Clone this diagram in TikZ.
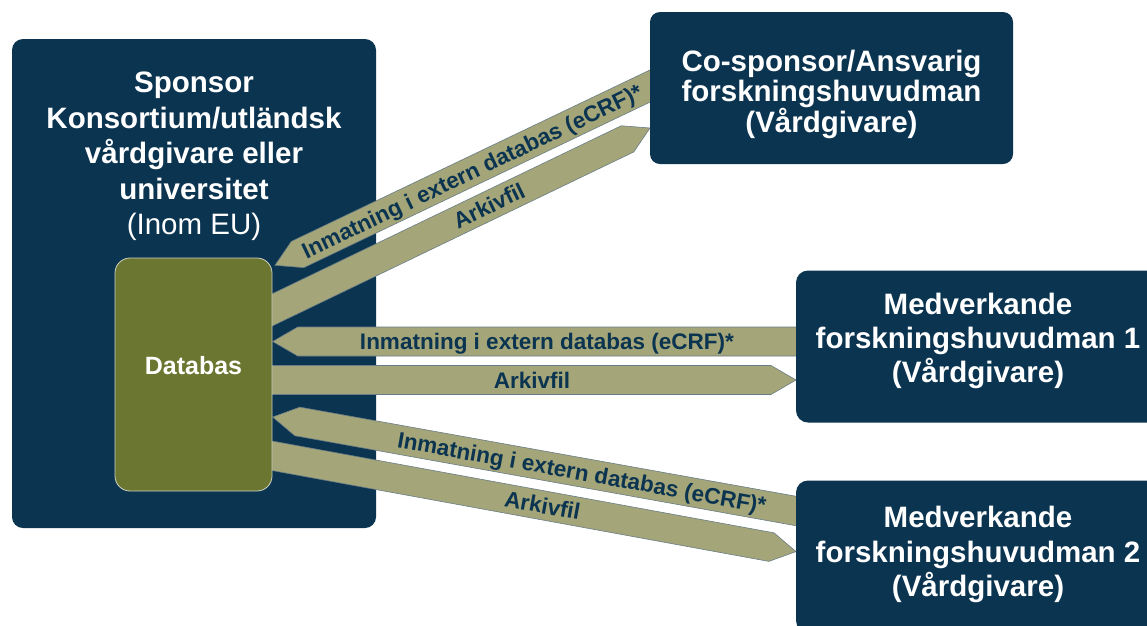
\documentclass[tikz,border=0pt]{standalone}
\usepackage{fontspec}
\setmainfont{Liberation Sans}
\usetikzlibrary{calc}

\definecolor{navy}{RGB}{11,52,81}
\definecolor{olivebox}{RGB}{107,118,48}
\definecolor{tanband}{RGB}{164,165,120}
\definecolor{tanedge}{RGB}{105,125,135}
\definecolor{dbedge}{RGB}{205,210,195}

% flat band with a pointed end: #1 = tail coordinate, #2 = tip coordinate
\newcommand\flowband[2]{%
  \coordinate (#2-base) at ($(#2)!25pt!(#1)$);
  \filldraw[band] ($(#1)!14.5pt!90:(#2)$) -- ($(#2-base)!14.5pt!90:(#2)$) -- (#2)
    -- ($(#2-base)!14.5pt!-90:(#2)$) -- ($(#1)!14.5pt!-90:(#2)$) -- cycle;
}

\tikzset{
  party/.style={fill=navy, draw=none, rounded corners=11pt, inner sep=0pt},
  title/.style={text=white, align=center, inner sep=0pt,
    font=\bfseries\fontsize{29.5}{35.5}\selectfont},
  band/.style={fill=tanband, draw=tanedge, line width=0.6pt, line join=miter},
  lbl/.style={text=navy, inner sep=0pt, text height=16.1pt, text depth=0pt,
    font=\bfseries\fontsize{22.5}{27}\selectfont},
}

\begin{document}
\begin{tikzpicture}[x=1pt, y=-1pt]
\useasboundingbox (0,0) rectangle (1147,625);
\clip (0,0) rectangle (1147,625);
\fill[white] (0,0) rectangle (1147,625);

% sponsor block with its database
\node[party, minimum width=364pt, minimum height=489pt] (sponsor) at (194,283.5) {};
\node[title] (sponsorlbl) at (194,156.3)
  {Sponsor\\Konsortium/utländsk\\vårdgivare eller\\universitet\\{\mdseries (Inom EU)}};

% end points of the bands
\coordinate (a1tail) at (680,71.7);   \coordinate (a1tip) at (275,265.3);
\coordinate (a2tail) at (240,325.4);  \coordinate (a2tip) at (650,128);
\coordinate (a3tail) at (830,341.5);  \coordinate (a3tip) at (272.7,341.5);
\coordinate (a4tail) at (240,380);    \coordinate (a4tip) at (796,380);
\coordinate (a5tail) at (830,517.1);  \coordinate (a5tip) at (272.7,417);
\coordinate (a6tail) at (240,449.9);  \coordinate (a6tip) at (796,551.6);

\flowband{a1tail}{a1tip}
\flowband{a2tail}{a2tip}
\flowband{a3tail}{a3tip}
\flowband{a4tail}{a4tip}
\flowband{a5tail}{a5tip}
\flowband{a6tail}{a6tip}

\node[fill=olivebox, draw=dbedge, line width=0.8pt, rounded corners=15pt,
  minimum width=157pt, minimum height=233pt, inner sep=0pt] (db) at (193.5,374.5) {};
\node[text=white, inner sep=0pt, font=\bfseries\fontsize{25}{30}\selectfont]
  (dblbl) at (193.5,366) {Databas};

% partner blocks
\node[party, rounded corners=10pt, minimum width=363pt, minimum height=152pt] (cosponsor) at (831.5,88) {};
\node[title, font=\bfseries\fontsize{29.5}{30}\selectfont] (cosponsorlbl) at (831.5,94.3)
  {Co-sponsor/Ansvarig\\forskningshuvudman\\(Vårdgivare)};

\node[party, rounded corners=12pt, minimum width=364pt, minimum height=152pt] (med1) at (978,346.5) {};
\node[title, font=\bfseries\fontsize{29.5}{34}\selectfont] (med1lbl) at (978,341.3)
  {Medverkande\\forskningshuvudman 1\\(Vårdgivare)};

\node[party, rounded corners=12pt, minimum width=364pt, minimum height=152pt] (med2) at (978,556.5) {};
\node[title, font=\bfseries\fontsize{29.5}{34.5}\selectfont] (med2lbl) at (978,554.8)
  {Medverkande\\forskningshuvudman 2\\(Vårdgivare)};

% band labels
\path (a1tail) -- (a1tip) node[lbl, sloped, pos=0.514] (l1) {Inmatning i extern databas (eCRF)*};
\path (a2tail) -- (a2tip) node[lbl, sloped, pos=0.607] (l2) {Arkivfil};
\path (a3tail) -- (a3tip) node[lbl, sloped, pos=0.508] (l3) {Inmatning i extern databas (eCRF)*};
\path (a4tail) -- (a4tip) node[lbl, sloped, pos=0.525] (l4) {Arkivfil};
\path (a5tail) -- (a5tip) node[lbl, sloped, pos=0.445] (l5) {Inmatning i extern databas (eCRF)*};
\path (a6tail) -- (a6tip) node[lbl, sloped, pos=0.544] (l6) {Arkivfil};
\end{tikzpicture}
\end{document}
